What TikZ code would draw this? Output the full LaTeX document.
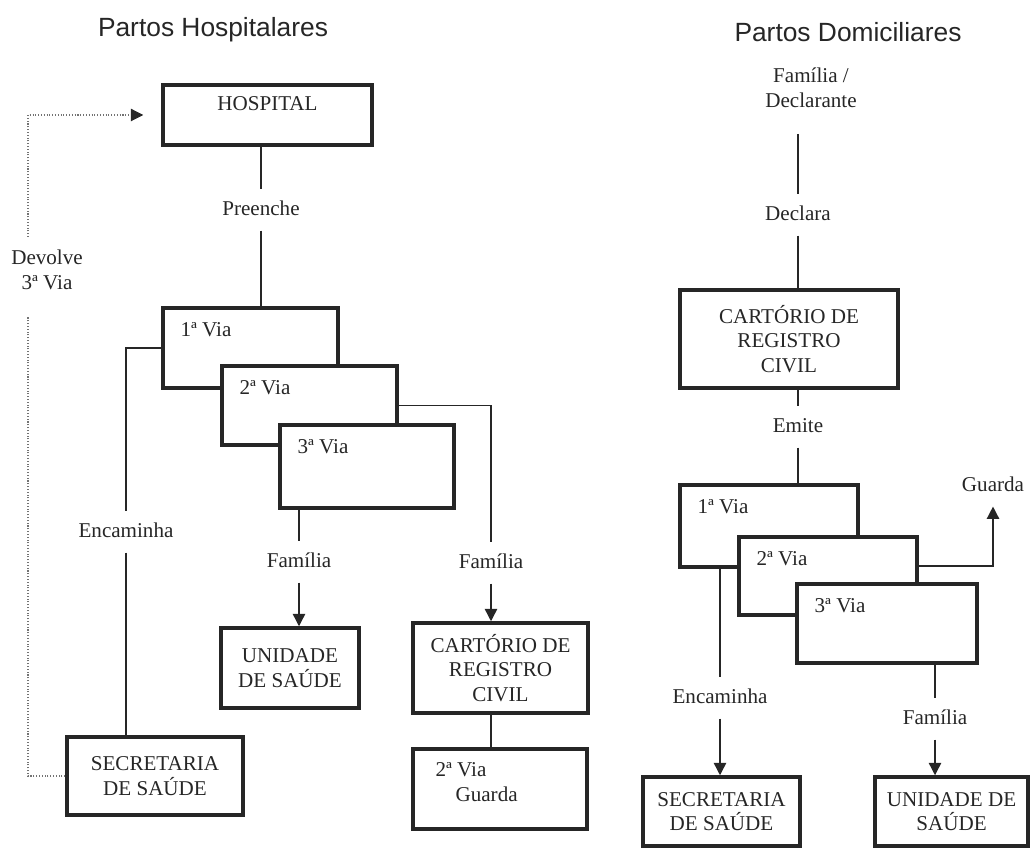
\documentclass[tikz,border=0pt]{standalone}
\usepackage{fontspec}
\setmainfont{Liberation Serif}
\newfontfamily\ttlfont{Liberation Sans}
\usetikzlibrary{arrows.meta}

\begin{document}
\begin{tikzpicture}[
    x=0.02cm, y=-0.02cm,
    every node/.style={font=\fontsize{12}{14}\selectfont, text=black!85},
    ttl/.style={font=\ttlfont\fontsize{15}{18}\selectfont},
    box/.style={draw=black!85, line width=2pt, fill=white, align=center, inner sep=0pt},
    via/.style={box, label={[anchor=west, inner sep=0pt, xshift=0.38cm, yshift=-0.46cm]north west:#1}},
    lbl/.style={inner xsep=2pt, inner ysep=6pt, text height=8.5pt, text depth=2.5pt},
    conn/.style={draw=black!85, line width=0.8pt},
    arr/.style={conn, -{Triangle[width=7pt,length=7pt]}},
    ret/.style={draw=black!55, line width=0.6pt, densely dotted}
]
\useasboundingbox (0,0) rectangle (1031,854);

% titles
\node[ttl] (tH) at (213,30) {Partos Hospitalares};
\node[ttl] (tD) at (848,32) {Partos Domiciliares};

% hospital births
\node[box, minimum width=4.18cm, minimum height=1.2cm,
      label={[anchor=north, inner sep=0pt, yshift=-0.26cm]north:HOSPITAL}] (hosp) at (267.5,115) {};
\node[lbl] (preL) at (261,210) {Preenche};
\node[via=1ª Via, minimum width=3.5cm, minimum height=1.6cm] (lv1) at (250.5,348) {};
\node[via=2ª Via, minimum width=3.5cm, minimum height=1.58cm] (lv2) at (309.5,405.5) {};
\node[via=3ª Via, minimum width=3.48cm, minimum height=1.66cm] (lv3) at (367,466.5) {};
\node[lbl] (encL) at (126,532) {Encaminha};
\node[lbl] (famA) at (299,562) {Família};
\node[lbl] (famB) at (491,563) {Família};
\node[box, minimum width=2.76cm, minimum height=1.6cm] (uniL) at (290,668) {UNIDADE\\DE SAÚDE};
\node[box, minimum width=3.5cm, minimum height=1.8cm] (carL) at (500.5,668) {CARTÓRIO DE\\REGISTRO\\CIVIL};
\node[box, minimum width=3.48cm, minimum height=1.6cm,
      label={[anchor=north west, inner sep=0pt, xshift=0.48cm, yshift=-0.3cm, align=left]north west:2ª Via\\\hspace{0.4cm}Guarda}] (gdL) at (500,789) {};
\node[box, minimum width=3.52cm, minimum height=1.56cm] (secL) at (155,776) {SECRETARIA\\DE SAÚDE};
\node[align=center, inner sep=1pt] (devL) at (47,270) {Devolve\\3ª Via};
\coordinate (dvB) at (28,317);
\coordinate (dvT) at (28,237);

\draw[conn] (preL.north |- hosp.south) -- (preL.north);
\draw[conn] (preL.south) -- (preL.south |- lv1.north);
\draw[conn] (lv1.west) -| (encL.north);
\draw[conn] (encL.south) -- (encL.south |- secL.north);
\draw[conn] (famA.north |- lv3.south) -- (famA.north);
\draw[arr] (famA.south) -- (famA.south |- uniL.north);
\draw[conn] (lv2.east) -| (famB.north);
\draw[arr] (famB.south) -- (famB.south |- carL.north);
\draw[conn] (famB.south |- carL.south) -- (famB.south |- gdL.north);
\draw[ret] (secL.west) -| (dvB);
\draw[ret, -{Triangle[width=7pt,length=7pt,black!85]}] (dvT) |- ([xshift=-0.36cm]hosp.west);

% home births
\node[align=center] (famD) at (811,88) {Família /\\Declarante};
\node[lbl] (decL) at (798,215) {Declara};
\node[box, minimum width=4.36cm, minimum height=1.96cm] (carR) at (789,339) {CARTÓRIO DE\\REGISTRO\\CIVIL};
\node[lbl] (emiL) at (798,427) {Emite};
\node[via=1ª Via, minimum width=3.56cm, minimum height=1.64cm] (rv1) at (769,526) {};
\node[via=2ª Via, minimum width=3.56cm, minimum height=1.56cm] (rv2) at (828,576) {};
\node[via=3ª Via, minimum width=3.6cm, minimum height=1.58cm] (rv3) at (887,623.5) {};
\node[lbl] (guaR) at (993,486) {Guarda};
\node[lbl] (encR) at (720,698) {Encaminha};
\node[lbl] (famR) at (935,719) {Família};
\node[box, minimum width=3.14cm, minimum height=1.38cm] (secR) at (721.5,811.5) {SECRETARIA\\DE SAÚDE};
\node[box, minimum width=3.06cm, minimum height=1.38cm] (uniR) at (951.5,811.5) {UNIDADE DE\\SAÚDE};

\draw[conn, shorten <=0.4cm] (decL.north |- famD.south) -- (decL.north);
\draw[conn] (decL.south) -- (decL.south |- carR.north);
\draw[conn] (emiL.north |- carR.south) -- (emiL.north);
\draw[conn] (emiL.south) -- (emiL.south |- rv1.north);
\draw[arr] ([yshift=0.2cm]rv2.east) -| (guaR.south);
\draw[conn] (encR.north |- rv1.south) -- (encR.north);
\draw[arr] (encR.south) -- (encR.south |- secR.north);
\draw[conn] (famR.north |- rv3.south) -- (famR.north);
\draw[arr] (famR.south) -- (famR.south |- uniR.north);
\end{tikzpicture}
\end{document}
